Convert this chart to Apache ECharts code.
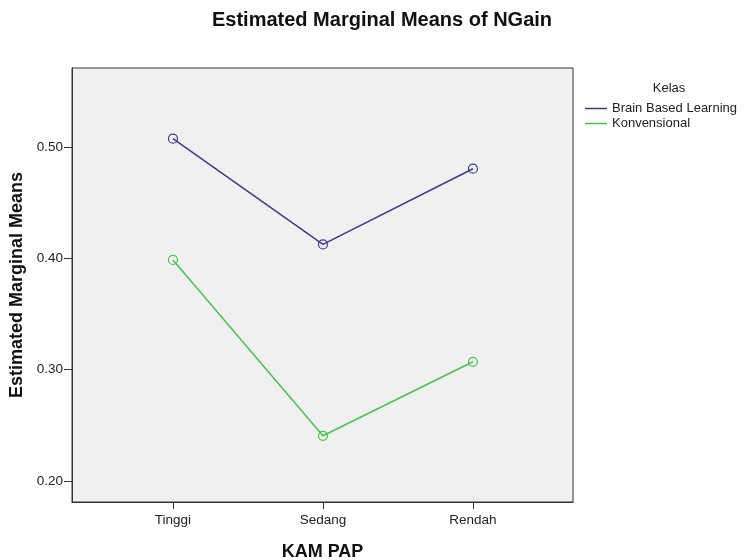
<!DOCTYPE html>
<html>
<head>
<meta charset="utf-8">
<script src="https://cdn.jsdelivr.net/npm/echarts@6/dist/echarts.min.js"></script>
<style>
  html, body { margin: 0; padding: 0; background: #fff; }
  #chart { width: 745px; height: 560px; }
</style>
</head>
<body>
<div id="chart"></div>
<script>
var categories = ['Tinggi', 'Sedang', 'Rendah'];
var brainBased = [0.5075, 0.4125, 0.4805];
var konvensional = [0.3985, 0.2405, 0.3070];
var yTicks = [0.2, 0.3, 0.4, 0.5];
var seriesNames = ['Brain Based Learning', 'Konvensional'];
var seriesColors = ['#3b3b8a', '#45c44f'];

var chart = echarts.init(document.getElementById('chart'));

function toPoints(vals) {
    var out = [];
    for (var i = 0; i < vals.length; i++) out.push([i, vals[i]]);
    return out;
}

var font = 'Liberation Sans, Arial, sans-serif';

function lineSeries(idx, vals) {
    return {
        name: seriesNames[idx], type: 'line',
        data: toPoints(vals),
        symbol: 'circle', symbolSize: 9,
        itemStyle: { color: 'rgba(0,0,0,0)', borderColor: seriesColors[idx], borderWidth: 1.2 },
        lineStyle: { color: seriesColors[idx], width: 1.5 }
    };
}

var option = {
    animation: false,
    backgroundColor: '#ffffff',
    title: [
        {
            text: 'Estimated Marginal Means of NGain',
            left: 377, top: 5, textAlign: 'center',
            textStyle: { fontFamily: font, fontSize: 20, fontWeight: 'bold', color: '#111' }
        },
        {
            text: 'Kelas',
            left: 664, top: 77, textAlign: 'center',
            textStyle: { fontFamily: font, fontSize: 13, fontWeight: 'normal', color: '#222' }
        }
    ],
    legend: {
        orient: 'vertical',
        left: 585, top: 102, padding: 0,
        itemWidth: 22, itemHeight: 1.5, itemGap: 2,
        icon: 'rect',
        textStyle: { fontFamily: font, fontSize: 13, color: '#222' },
        data: [
            { name: seriesNames[0], itemStyle: { color: seriesColors[0], borderWidth: 0 } },
            { name: seriesNames[1], itemStyle: { color: seriesColors[1], borderWidth: 0 } }
        ]
    },
    grid: { left: 72, right: 172, top: 68, bottom: 58, show: true, outerBoundsMode: 'none',
            backgroundColor: '#f0f0f0', borderColor: '#333', borderWidth: 1 },
    xAxis: {
        type: 'value',
        min: -0.673, max: 2.667,
        name: 'KAM PAP', nameLocation: 'middle', nameGap: 41,
        nameTextStyle: { fontFamily: font, fontSize: 18, fontWeight: 'bold', color: '#111' },
        axisLine: { show: true, onZero: false, lineStyle: { color: '#333' } },
        axisTick: { show: true, customValues: [0, 1, 2], length: 7, lineStyle: { color: '#333' } },
        axisLabel: { customValues: [0, 1, 2], fontFamily: font, fontSize: 13.5, color: '#222', margin: 11,
                     formatter: function (v) { return categories[Math.round(v)]; } },
        splitLine: { show: false }
    },
    yAxis: {
        type: 'value',
        min: 0.181, max: 0.571,
        name: 'Estimated Marginal Means', nameLocation: 'middle', nameGap: 34,
        nameTextStyle: { fontFamily: font, fontSize: 18, fontWeight: 'bold', color: '#111' },
        axisLine: { show: true, onZero: false, lineStyle: { color: '#333' } },
        axisTick: { show: true, customValues: yTicks, length: 8, lineStyle: { color: '#333' } },
        axisLabel: { customValues: yTicks, fontFamily: font, fontSize: 13.5, color: '#222', margin: 9,
                     formatter: function (v) { return v.toFixed(2); } },
        splitLine: { show: false }
    },
    series: [
        lineSeries(0, brainBased),
        lineSeries(1, konvensional)
    ]
};

chart.setOption(option);
</script>
</body>
</html>
